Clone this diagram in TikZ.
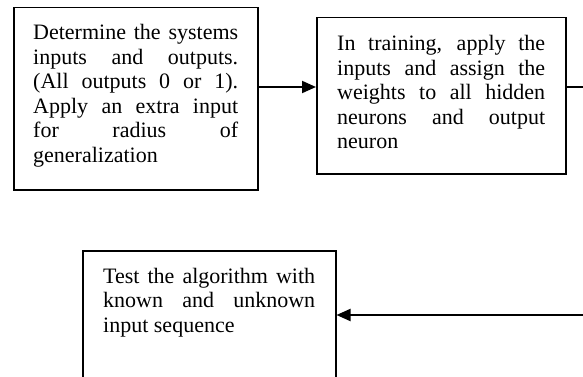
\documentclass[tikz,border=0pt]{standalone}
\usepackage{fontspec}
\setmainfont{Liberation Serif}
\usetikzlibrary{arrows.meta}
\newcommand\nohyph{\hyphenpenalty=10000\relax\exhyphenpenalty=10000\relax}
\begin{document}
\begin{tikzpicture}[x=1pt,y=-1pt,
  box/.style={draw=black, line width=1.5pt, inner sep=0pt, anchor=north west},
  txt/.style={inner sep=0pt, anchor=north west, align=justify,
    font=\fontsize{22}{24.5}\selectfont},
  conn/.style={draw=black, line width=2pt},
  arr/.style={conn, -{Triangle[length=14pt,width=12pt]}}]
\useasboundingbox (0,0) rectangle (583,377);
\clip (0,0) rectangle (583,377);
% boxes
\node[box, minimum width=244pt, minimum height=182pt] (b1) at (13,7) {};
\node[box, minimum width=249pt, minimum height=156pt] (b2) at (316,17) {};
\node[box, minimum width=253pt, minimum height=160pt] (b3) at (82,250) {};
% texts
\node[txt, text width=205pt] (t1) at (33,24.4) {\nohyph Determine the systems\linebreak inputs and outputs.\linebreak (All outputs 0 or 1).\linebreak Apply an extra input\linebreak for radius of\linebreak generalization};
\node[txt, text width=208pt] (t2) at (337,35.5) {\nohyph In training, apply the\linebreak inputs and assign the\linebreak weights to all hidden\linebreak neurons and output\linebreak neuron};
\node[txt, text width=212pt] (t3) at (103,267.7) {\nohyph Test the algorithm with\linebreak known and unknown\linebreak input sequence};
% connectors
\coordinate (r1) at (0,87);
\coordinate (r2) at (0,315);
\coordinate (c1) at (600,87);
\coordinate (c2) at (600,315);
\draw[arr] (b1.east |- r1) -- (b2.west |- r1);
\draw[arr] (b2.east |- r1) -- (c1) -- (c2) -- (b3.east |- r2);
\end{tikzpicture}
\end{document}
